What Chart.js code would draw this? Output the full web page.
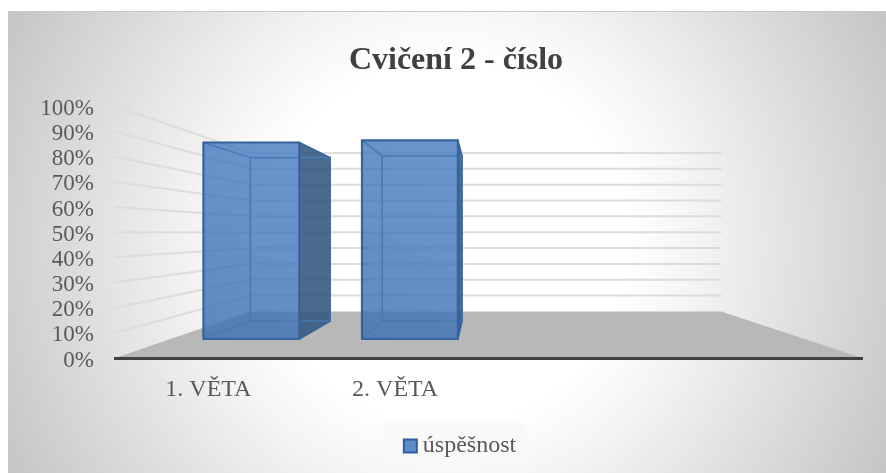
<!DOCTYPE html>
<html>
<head>
<meta charset="utf-8">
<style>
html,body{margin:0;padding:0;background:#fff;width:886px;height:473px;overflow:hidden}
#panel{position:absolute;left:8px;top:11px;width:878px;height:462px;
background:radial-gradient(circle 500px at 439px 231px,#fff 0,#fff 36%,#f4f4f4 50%,#c4c4c4 100%);border-top:1px solid #c8c8c8;box-sizing:border-box}
#wrap{position:absolute;left:26px;top:0;width:860px;height:473px}
</style>
</head>
<body>
<div id="panel"></div>
<div id="wrap"><canvas id="c" width="860" height="473"></canvas></div>
<script src="https://cdn.jsdelivr.net/npm/chart.js@4/dist/chart.umd.min.js"></script>
<script>
const categories = ["1. VĚTA", "2. VĚTA", "", ""];
const uspesnost = [92, 93, null, null];
const yTicks = [0, 10, 20, 30, 40, 50, 60, 70, 80, 90, 100];
const seriesName = "úspěšnost";
const chartTitle = "Cvičení 2 - číslo";

const FONT = '"Liberation Serif", "Times New Roman", serif';
const TEXT = "#595959";
const vanishX = 456;          // canvas px
const wallDepth = 0.63, barFront = 0.849, barBack = 0.706, barShift = 2;
const legendShift = 7, tickDrop = 2.5;

const perspective = {
  id: "perspective",
  afterLayout(chart) {
    chart.legend.left += legendShift;
    chart.legend.right += legendShift;
    chart.scales.y.left -= 24;
  },
  beforeDraw(chart) {
    const { ctx, scales: { x, y } } = chart;
    const vy = y.getPixelForValue(50);
    const px = (X, s) => vanishX + (X - vanishX) * s;
    const py = (Y, s) => vy + (Y - vy) * s;
    const base = y.getPixelForValue(0);
    const items = y.getLabelItems(chart.chartArea);
    if (!items.dropped) {
      items.forEach(it => { it.textOffset += tickDrop; });
      items.dropped = true;
    }
    ctx.save();
    // legend backing
    ctx.fillStyle = "rgba(248,248,248,0.9)";
    ctx.fillRect(359, 423, 141, 42);
    // walls
    ctx.strokeStyle = "#dcdcdc";
    ctx.lineWidth = 2;
    yTicks.forEach(v => {
      const Y = y.getPixelForValue(v);
      if (v > 0) {
        ctx.beginPath();
        ctx.moveTo(x.left, Y);
        ctx.lineTo(px(x.left, wallDepth), py(Y, wallDepth));
        ctx.lineTo(px(x.right, wallDepth), py(Y, wallDepth));
        ctx.stroke();
      }
    });
    // floor
    ctx.fillStyle = "#b8b8b8";
    ctx.beginPath();
    ctx.moveTo(x.left, base);
    ctx.lineTo(px(x.left, wallDepth), py(base, wallDepth));
    ctx.lineTo(px(x.right, wallDepth), py(base, wallDepth));
    ctx.lineTo(x.right, base);
    ctx.closePath();
    ctx.fill();
    ctx.restore();
  },
  beforeDatasetsDraw(chart) {
    const { ctx, scales: { y } } = chart;
    const vy = y.getPixelForValue(50);
    const px = (X, s) => vanishX + (X - vanishX) * s;
    const py = (Y, s) => vy + (Y - vy) * s;
    const poly = (pts, fill, stroke, lw) => {
      ctx.beginPath();
      pts.forEach((p, i) => i ? ctx.lineTo(p[0], p[1]) : ctx.moveTo(p[0], p[1]));
      ctx.closePath();
      if (fill) { ctx.fillStyle = fill; ctx.fill(); }
      if (stroke) { ctx.strokeStyle = stroke; ctx.lineWidth = lw; ctx.stroke(); }
    };
    ctx.save();
    ctx.lineJoin = "round";
    chart.getDatasetMeta(0).data.forEach((bar, i) => {
      if (uspesnost[i] == null) return;
      const l = bar.x - bar.width / 2 + barShift, r = bar.x + bar.width / 2 + barShift;
      const pt = (X, Y, s) => [px(X, s), py(Y, s)];
      const fTL = pt(l, bar.y, barFront), fTR = pt(r, bar.y, barFront),
            fBL = pt(l, bar.base, barFront), fBR = pt(r, bar.base, barFront),
            bTL = pt(l, bar.y, barBack), bTR = pt(r, bar.y, barBack),
            bBL = pt(l, bar.base, barBack), bBR = pt(r, bar.base, barBack);
      // side face
      poly([fTR, bTR, bBR, fBR], "rgba(50,85,125,0.88)", null);
      // front face
      const g = ctx.createLinearGradient(fTL[0], fBL[1], fTR[0], fTL[1]);
      g.addColorStop(0, "rgba(62,112,178,0.82)");
      g.addColorStop(1, "rgba(74,126,194,0.82)");
      poly([fTL, fTR, fBR, fBL], g, null);
      // inner edges
      const inner = "#4a78b3";
      poly([bTL, bTR, bBR, bBL], null, inner, 1.6);
      [[fTL, bTL], [fBL, bBL]].forEach(e => poly(e, null, inner, 1.4));
      // side edges
      const edge = "#35639d";
      [[fTR, bTR], [fBR, bBR]].forEach(e => poly(e, null, edge, 1.6));
      poly([bTR, bBR], null, "#3f6a9f", 1.6);
      // front rim
      poly([fTL, fTR, fBR, fBL], null, edge, 2.2);
    });
    ctx.restore();
    return false;
  }
};

new Chart(document.getElementById("c"), {
  type: "bar",
  data: {
    labels: categories,
    datasets: [{
      label: seriesName,
      data: uspesnost,
      backgroundColor: "#5f8cc6",
      borderColor: "#2f5f9a",
      borderWidth: 2,
      categoryPercentage: 0.605,
      barPercentage: 1
    }]
  },
  options: {
    responsive: false,
    animation: false,
    layout: { padding: { left: 24, right: 24, top: 0, bottom: 5 } },
    plugins: {
      tooltip: { enabled: false },
      title: {
        display: true,
        text: chartTitle,
        color: "#404040",
        font: { family: FONT, size: 32, weight: "bold" },
        padding: { top: 42, bottom: 26 }
      },
      legend: {
        position: "bottom",
        labels: {
          color: TEXT,
          font: { family: FONT, size: 24 },
          usePointStyle: true,
          pointStyle: "rect",
          boxWidth: 1,
          boxHeight: 13,
          padding: 10
        }
      }
    },
    scales: {
      x: {
        grid: { display: false, drawTicks: false },
        border: { display: true, color: "#404040", width: 3 },
        afterFit(s) { s.height = 66; },
        ticks: { color: TEXT, font: { family: FONT, size: 24 }, padding: 17, autoSkip: false, maxRotation: 0 }
      },
      y: {
        min: 0,
        max: 100,
        grid: { display: false, drawTicks: false },
        border: { display: false },
        afterFit(s) { s.width = 65; },
        afterBuildTicks(s) { s.ticks = yTicks.map(v => ({ value: v })); },
        ticks: { color: TEXT, font: { family: FONT, size: 23 }, padding: 21, autoSkip: false, callback: v => v + "%" }
      }
    }
  },
  plugins: [perspective]
});
</script>
</body>
</html>
